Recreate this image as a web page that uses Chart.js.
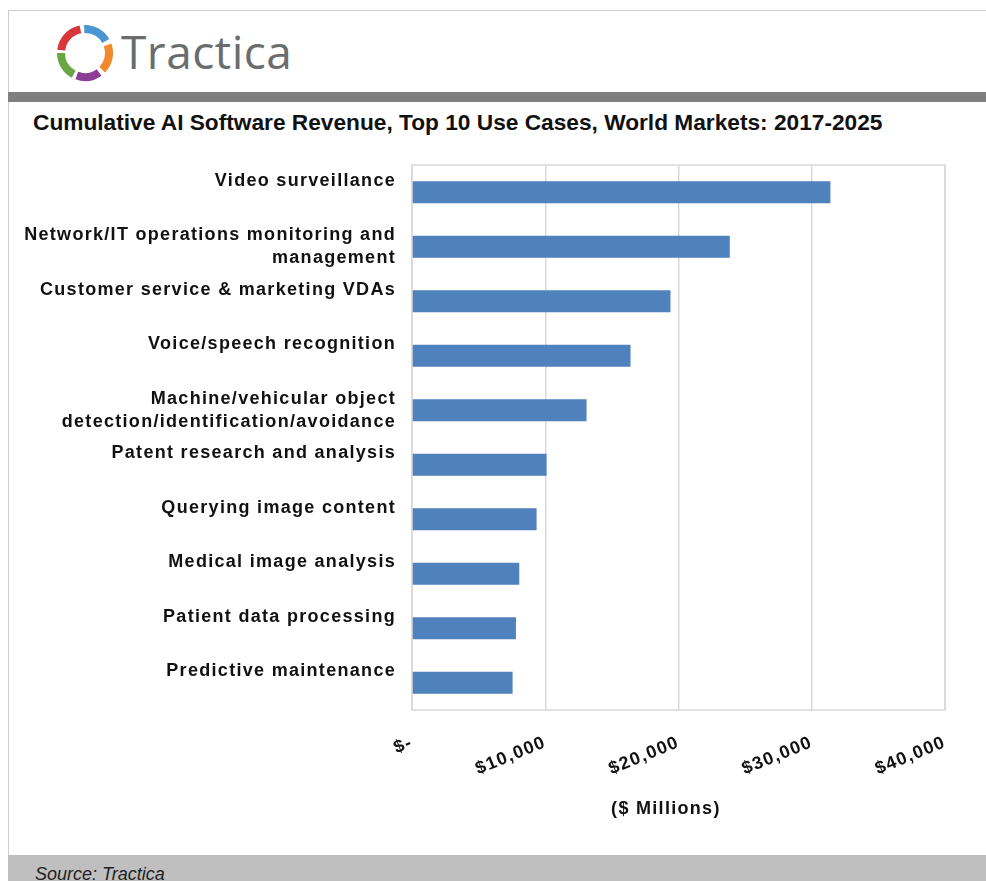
<!DOCTYPE html>
<html>
<head>
<meta charset="utf-8">
<script src="https://cdn.jsdelivr.net/npm/chart.js@4.4.1/dist/chart.umd.min.js"></script>
<style>
  html, body { margin: 0; padding: 0; background: #fff; }
  #page { position: relative; width: 986px; height: 881px; overflow: hidden; font-family: "Liberation Sans", Arial, sans-serif; }
  .frame-top  { position: absolute; left: 8px; top: 10px; right: 0; height: 1px; background: #cfcfcf; }
  .frame-left { position: absolute; left: 8px; top: 10px; bottom: 0; width: 1px; background: #cfcfcf; }
  .logo  { position: absolute; left: 55px; top: 22px; }
  .brand { position: absolute; left: 121px; top: 20px; font-family: "Open Sans", sans-serif; font-size: 46px; color: #6b6c6e; letter-spacing: 0.5px; }
  .band  { position: absolute; left: 8px; right: 0; top: 92px; height: 10px; background: #7f7f7f; }
  .title { position: absolute; left: 33px; top: 109px; font-size: 22.7px; line-height: 26px; font-weight: bold; color: #111; white-space: nowrap; }
  #wrap  { position: absolute; left: 0; top: 140px; width: 986px; height: 710px; }
  .source { position: absolute; left: 8px; right: 0; top: 855px; bottom: 0; background: #bfbfbf; }
  .source span { position: absolute; left: 27px; top: 10px; font-size: 18px; line-height: 18px; font-style: italic; color: #222; }
</style>
</head>
<body>
<div id="page">
  <div class="frame-top"></div>
  <div class="frame-left"></div>

  <svg class="logo" id="logo" width="62" height="62" viewBox="0 0 62 62"></svg>
  <div class="brand">Tractica</div>

  <div class="band"></div>
  <div class="title">Cumulative AI Software Revenue, Top 10 Use Cases, World Markets: 2017-2025</div>

  <div id="wrap"><canvas id="chart-rev"></canvas></div>

  <div class="source"><span>Source: Tractica</span></div>
</div>

<script>
// ── data ──────────────────────────────────────────
var categories = [
  ['Video surveillance', ''],
  ['Network/IT operations monitoring and', 'management'],
  ['Customer service & marketing VDAs', ''],
  ['Voice/speech recognition', ''],
  ['Machine/vehicular object', 'detection/identification/avoidance'],
  ['Patent research and analysis', ''],
  ['Querying image content', ''],
  ['Medical image analysis', ''],
  ['Patient data processing', ''],
  ['Predictive maintenance', '']
];
var revenue = [31400, 23850, 19400, 16400, 13100, 10100, 9350, 8050, 7800, 7550];
var xTickLabels = ['$-', '$10,000', '$20,000', '$30,000', '$40,000'];
var xMax = 40000;
var xStep = 10000;

var GRID = '#d9d9d9';
var LABEL_FONT = { family: 'Liberation Sans', size: 18, weight: 'bold', lineHeight: 1.3 };

// ── logo: five coloured arcs round a ring ─────────
(function () {
  var cx = 30, cy = 31, r = 24;
  var arcs = [
    [187, 259, '#d7363b'],
    [268, 330, '#4a96d2'],
    [340, 404, '#f08a2c'],
    [54, 110, '#8e3d96'],
    [118, 180, '#6aa644']
  ];
  function pt(deg) {
    var a = deg * Math.PI / 180;
    return (cx + r * Math.cos(a)).toFixed(1) + ' ' + (cy + r * Math.sin(a)).toFixed(1);
  }
  var svg = '';
  arcs.forEach(function (s) {
    svg += '<path fill="none" stroke-width="8" stroke="' + s[2] + '" d="M' + pt(s[0]) +
      ' A' + r + ' ' + r + ' 0 0 1 ' + pt(s[1]) + '"/>';
  });
  document.getElementById('logo').innerHTML = svg;
})();

// plot area frame + wider text spacing like the source image
var frame = {
  id: 'frame',
  beforeLayout: function (chart) { chart.ctx.letterSpacing = '1.3px'; },
  beforeDraw: function (chart) { chart.ctx.letterSpacing = '1.3px'; },
  beforeDatasetsDraw: function (chart) {
    var a = chart.chartArea, c = chart.ctx;
    c.save();
    c.strokeStyle = GRID;
    c.lineWidth = 1.5;
    c.strokeRect(a.left, a.top, a.right - a.left, a.bottom - a.top);
    c.restore();
  }
};

new Chart(document.getElementById('chart-rev').getContext('2d'), {
  type: 'bar',
  data: {
    labels: categories,
    datasets: [{
      data: revenue,
      backgroundColor: '#4f81bd',
      borderWidth: 0,
      barPercentage: 0.8,
      categoryPercentage: 0.5
    }]
  },
  options: {
    indexAxis: 'y',
    responsive: true,
    maintainAspectRatio: false,
    animation: false,
    layout: { padding: { top: 25, right: 41, bottom: 0, left: 0 } },
    plugins: { legend: { display: false }, tooltip: { enabled: false } },
    scales: {
      x: {
        min: 0, max: xMax,
        grid: { color: GRID, lineWidth: 1.5, drawTicks: false },
        border: { display: false },
        ticks: {
          stepSize: xStep,
          minRotation: 22, maxRotation: 22,
          padding: 22,
          color: '#111',
          font: { family: 'Liberation Sans', size: 18, weight: 'bold' },
          callback: function (v, i) { return xTickLabels[i]; }
        },
        title: {
          display: true,
          text: '($ Millions)    ',
          color: '#111',
          font: { family: 'Liberation Sans', size: 18, weight: 'bold' },
          padding: { top: 0, bottom: 30 }
        },
        afterFit: function (s) { s.height = 140; s.paddingLeft = 0; s.paddingRight = 0; }
      },
      y: {
        grid: { display: false, drawTicks: false },
        border: { display: false },
        ticks: { padding: 16, color: '#111', font: LABEL_FONT },
        afterFit: function (s) { s.width = 412; s.paddingTop = 0; s.paddingBottom = 0; }
      }
    }
  },
  plugins: [frame]
});
</script>
</body>
</html>
